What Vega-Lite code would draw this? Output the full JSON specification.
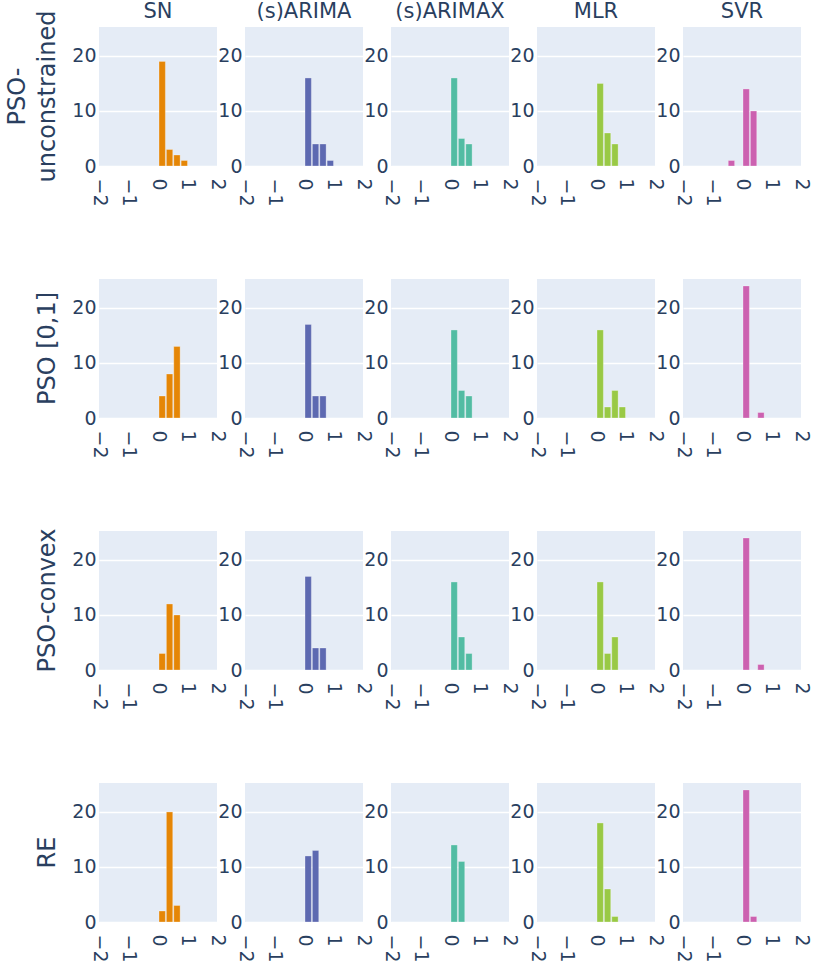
{
  "$schema": "https://vega.github.io/schema/vega-lite/v6.json",
  "padding": {"left": 5, "top": 1, "right": 5, "bottom": 5},
  "background": "white",
  "data": {
    "values": [
      {"method": "PSO-unconstrained", "model": "SN", "b0": 0, "b1": 0.25, "n": 19},
      {"method": "PSO-unconstrained", "model": "SN", "b0": 0.25, "b1": 0.5, "n": 3},
      {"method": "PSO-unconstrained", "model": "SN", "b0": 0.5, "b1": 0.75, "n": 2},
      {"method": "PSO-unconstrained", "model": "SN", "b0": 0.75, "b1": 1, "n": 1},
      {"method": "PSO-unconstrained", "model": "(s)ARIMA", "b0": 0, "b1": 0.25, "n": 16},
      {"method": "PSO-unconstrained", "model": "(s)ARIMA", "b0": 0.25, "b1": 0.5, "n": 4},
      {"method": "PSO-unconstrained", "model": "(s)ARIMA", "b0": 0.5, "b1": 0.75, "n": 4},
      {"method": "PSO-unconstrained", "model": "(s)ARIMA", "b0": 0.75, "b1": 1, "n": 1},
      {"method": "PSO-unconstrained", "model": "(s)ARIMAX", "b0": 0, "b1": 0.25, "n": 16},
      {"method": "PSO-unconstrained", "model": "(s)ARIMAX", "b0": 0.25, "b1": 0.5, "n": 5},
      {"method": "PSO-unconstrained", "model": "(s)ARIMAX", "b0": 0.5, "b1": 0.75, "n": 4},
      {"method": "PSO-unconstrained", "model": "MLR", "b0": 0, "b1": 0.25, "n": 15},
      {"method": "PSO-unconstrained", "model": "MLR", "b0": 0.25, "b1": 0.5, "n": 6},
      {"method": "PSO-unconstrained", "model": "MLR", "b0": 0.5, "b1": 0.75, "n": 4},
      {"method": "PSO-unconstrained", "model": "SVR", "b0": -0.5, "b1": -0.25, "n": 1},
      {"method": "PSO-unconstrained", "model": "SVR", "b0": 0, "b1": 0.25, "n": 14},
      {"method": "PSO-unconstrained", "model": "SVR", "b0": 0.25, "b1": 0.5, "n": 10},

      {"method": "PSO [0,1]", "model": "SN", "b0": 0, "b1": 0.25, "n": 4},
      {"method": "PSO [0,1]", "model": "SN", "b0": 0.25, "b1": 0.5, "n": 8},
      {"method": "PSO [0,1]", "model": "SN", "b0": 0.5, "b1": 0.75, "n": 13},
      {"method": "PSO [0,1]", "model": "(s)ARIMA", "b0": 0, "b1": 0.25, "n": 17},
      {"method": "PSO [0,1]", "model": "(s)ARIMA", "b0": 0.25, "b1": 0.5, "n": 4},
      {"method": "PSO [0,1]", "model": "(s)ARIMA", "b0": 0.5, "b1": 0.75, "n": 4},
      {"method": "PSO [0,1]", "model": "(s)ARIMAX", "b0": 0, "b1": 0.25, "n": 16},
      {"method": "PSO [0,1]", "model": "(s)ARIMAX", "b0": 0.25, "b1": 0.5, "n": 5},
      {"method": "PSO [0,1]", "model": "(s)ARIMAX", "b0": 0.5, "b1": 0.75, "n": 4},
      {"method": "PSO [0,1]", "model": "MLR", "b0": 0, "b1": 0.25, "n": 16},
      {"method": "PSO [0,1]", "model": "MLR", "b0": 0.25, "b1": 0.5, "n": 2},
      {"method": "PSO [0,1]", "model": "MLR", "b0": 0.5, "b1": 0.75, "n": 5},
      {"method": "PSO [0,1]", "model": "MLR", "b0": 0.75, "b1": 1, "n": 2},
      {"method": "PSO [0,1]", "model": "SVR", "b0": 0, "b1": 0.25, "n": 24},
      {"method": "PSO [0,1]", "model": "SVR", "b0": 0.5, "b1": 0.75, "n": 1},

      {"method": "PSO-convex", "model": "SN", "b0": 0, "b1": 0.25, "n": 3},
      {"method": "PSO-convex", "model": "SN", "b0": 0.25, "b1": 0.5, "n": 12},
      {"method": "PSO-convex", "model": "SN", "b0": 0.5, "b1": 0.75, "n": 10},
      {"method": "PSO-convex", "model": "(s)ARIMA", "b0": 0, "b1": 0.25, "n": 17},
      {"method": "PSO-convex", "model": "(s)ARIMA", "b0": 0.25, "b1": 0.5, "n": 4},
      {"method": "PSO-convex", "model": "(s)ARIMA", "b0": 0.5, "b1": 0.75, "n": 4},
      {"method": "PSO-convex", "model": "(s)ARIMAX", "b0": 0, "b1": 0.25, "n": 16},
      {"method": "PSO-convex", "model": "(s)ARIMAX", "b0": 0.25, "b1": 0.5, "n": 6},
      {"method": "PSO-convex", "model": "(s)ARIMAX", "b0": 0.5, "b1": 0.75, "n": 3},
      {"method": "PSO-convex", "model": "MLR", "b0": 0, "b1": 0.25, "n": 16},
      {"method": "PSO-convex", "model": "MLR", "b0": 0.25, "b1": 0.5, "n": 3},
      {"method": "PSO-convex", "model": "MLR", "b0": 0.5, "b1": 0.75, "n": 6},
      {"method": "PSO-convex", "model": "SVR", "b0": 0, "b1": 0.25, "n": 24},
      {"method": "PSO-convex", "model": "SVR", "b0": 0.5, "b1": 0.75, "n": 1},

      {"method": "RE", "model": "SN", "b0": 0, "b1": 0.25, "n": 2},
      {"method": "RE", "model": "SN", "b0": 0.25, "b1": 0.5, "n": 20},
      {"method": "RE", "model": "SN", "b0": 0.5, "b1": 0.75, "n": 3},
      {"method": "RE", "model": "(s)ARIMA", "b0": 0, "b1": 0.25, "n": 12},
      {"method": "RE", "model": "(s)ARIMA", "b0": 0.25, "b1": 0.5, "n": 13},
      {"method": "RE", "model": "(s)ARIMAX", "b0": 0, "b1": 0.25, "n": 14},
      {"method": "RE", "model": "(s)ARIMAX", "b0": 0.25, "b1": 0.5, "n": 11},
      {"method": "RE", "model": "MLR", "b0": 0, "b1": 0.25, "n": 18},
      {"method": "RE", "model": "MLR", "b0": 0.25, "b1": 0.5, "n": 6},
      {"method": "RE", "model": "MLR", "b0": 0.5, "b1": 0.75, "n": 1},
      {"method": "RE", "model": "SVR", "b0": 0, "b1": 0.25, "n": 24},
      {"method": "RE", "model": "SVR", "b0": 0.25, "b1": 0.5, "n": 1}
    ]
  },
  "facet": {
    "row": {
      "field": "method",
      "type": "nominal",
      "sort": ["PSO-unconstrained", "PSO [0,1]", "PSO-convex", "RE"],
      "title": null,
      "header": {
        "labelFont": "DejaVu Sans",
        "labelFontSize": 24,
        "labelColor": "#2a3f5f",
        "labelPadding": 39,
        "labelLineHeight": 30,
        "labelExpr": "datum.value == 'PSO-unconstrained' ? ['PSO-', 'unconstrained'] : datum.value"
      }
    },
    "column": {
      "field": "model",
      "type": "nominal",
      "sort": ["SN", "(s)ARIMA", "(s)ARIMAX", "MLR", "SVR"],
      "title": null,
      "header": {
        "labelFont": "DejaVu Sans",
        "labelFontSize": 21,
        "labelColor": "#2a3f5f",
        "labelPadding": 5
      }
    }
  },
  "spacing": {"row": 113, "column": 28},
  "bounds": "flush",
  "resolve": {"axis": {"x": "independent", "y": "independent"}},
  "spec": {
    "width": 118,
    "height": 139,
    "mark": {"type": "bar", "binSpacing": 1, "stroke": "white", "strokeWidth": 0.6, "strokeOpacity": 0.5},
    "encoding": {
      "x": {
        "field": "b0",
        "type": "quantitative",
        "bin": "binned",
        "scale": {"domain": [-2, 2], "nice": false, "zero": false},
        "axis": {"values": [-2, -1, 0, 1, 2], "title": null, "labelAngle": 90, "grid": false, "labelPadding": 12, "labelFlush": false, "labelOverlap": false}
      },
      "x2": {"field": "b1"},
      "y": {
        "field": "n",
        "type": "quantitative",
        "scale": {"domain": [0, 25.26], "nice": false},
        "axis": {"values": [0, 10, 20], "title": null, "grid": true, "labelPadding": 3, "labelFlush": false}
      },
      "color": {
        "field": "model",
        "type": "nominal",
        "scale": {
          "domain": ["SN", "(s)ARIMA", "(s)ARIMAX", "MLR", "SVR"],
          "range": ["#E58606", "#5D69B1", "#52BCA3", "#99C945", "#CC61B0"]
        },
        "legend": null
      }
    }
  },
  "config": {
    "view": {"fill": "#E5ECF6", "stroke": null},
    "axis": {
      "domain": false,
      "ticks": false,
      "labelFont": "DejaVu Sans",
      "labelFontSize": 19,
      "labelColor": "#2a3f5f",
      "gridColor": "white",
      "gridWidth": 1.3
    }
  }
}
